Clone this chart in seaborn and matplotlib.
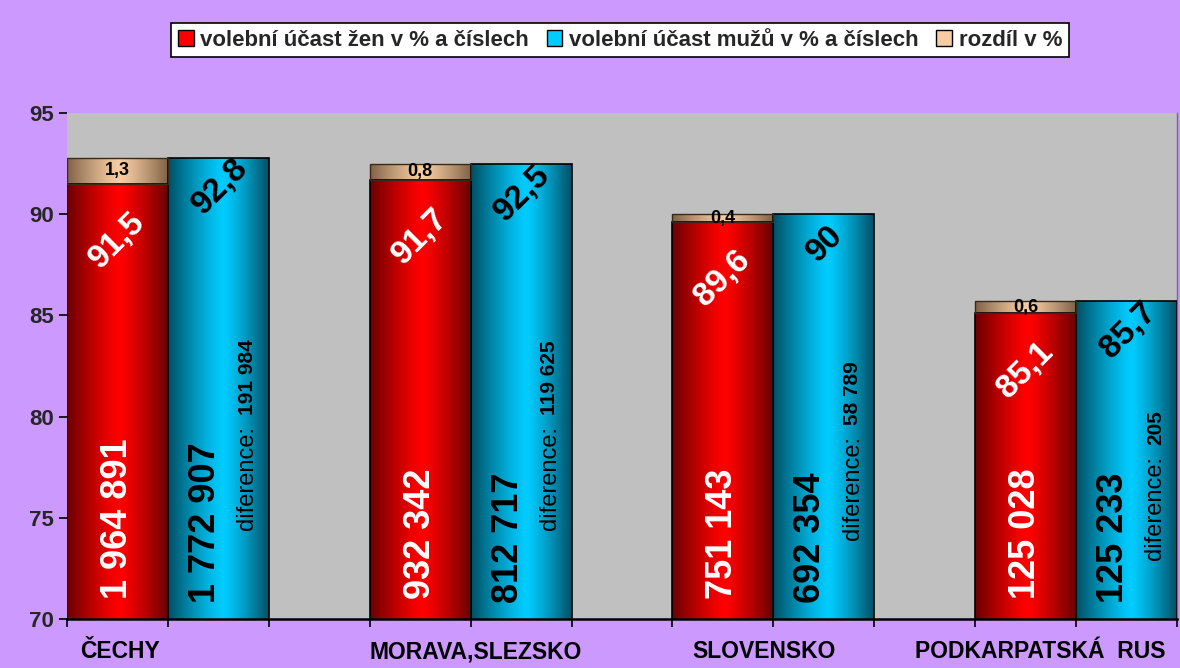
import matplotlib
matplotlib.use("Agg")
import matplotlib.pyplot as plt
import matplotlib.patches as mpatches
import numpy as np
import pandas as pd
import seaborn as sns

# data
regions = ["ČECHY", "MORAVA,SLEZSKO", "SLOVENSKO", "PODKARPATSKÁ  RUS"]
women_pct = [91.5, 91.7, 89.6, 85.1]
men_pct = [92.8, 92.5, 90.0, 85.7]
diff_pct = [1.3, 0.8, 0.4, 0.6]
women_count = [1964891, 932342, 751143, 125028]
men_count = [1772907, 812717, 692354, 125233]
y_ticks = [70, 75, 80, 85, 90, 95]
legend_labels = ["volební účast žen v % a číslech",
                 "volební účast mužů v % a číslech",
                 "rozdíl v %"]

# layout bits (not data)
label_left_x = [-0.29, 0.667, 1.733, 2.469]
diff_label_y = [74.4, 74.4, 73.9, 72.9]

PURPLE = "#CC99FF"
GRAY = "#C0C0C0"
RED = ("#6A0000", "#FF0000")
CYAN = ("#004F64", "#00CCFF")
TAN = ("#806247", "#F7CCA2")


def fmt_pct(v):
    return f"{v:g}".replace(".", ",")


def fmt_count(n):
    return f"{n:,}".replace(",", " ")


def gradient_fill(ax, patch, colors, peak=0.52, power=1.25):
    """Paint a cylinder-like horizontal gradient clipped to a bar patch."""
    dark = np.array(matplotlib.colors.to_rgb(colors[0]))
    bright = np.array(matplotlib.colors.to_rgb(colors[1]))
    t = np.linspace(0, 1, 200)
    d = np.where(t < peak, (peak - t) / peak, (t - peak) / (1 - peak))
    f = 1 - d ** power
    img = dark[None, :] + (bright - dark)[None, :] * f[:, None]
    img = img[None, :, :]
    ymin, ymax = ax.get_ylim()
    x0 = patch.get_x()
    x1 = x0 + patch.get_width()
    y0 = max(patch.get_y(), ymin)
    y1 = min(patch.get_y() + patch.get_height(), ymax)
    im = ax.imshow(img, extent=(x0, x1, y0, y1), aspect="auto",
                   origin="lower", zorder=patch.get_zorder() + 0.1)
    im.set_clip_path(patch)


sns.set_theme(style="white")
plt.rcParams["font.family"] = ["Liberation Sans", "DejaVu Sans"]

fig = plt.figure(figsize=(11.8, 6.68), dpi=100, facecolor=PURPLE)
ax = fig.add_axes([67 / 1180, 1 - 619 / 668, 1110 / 1180, 506 / 668])
ax.set_facecolor(GRAY)

df = pd.DataFrame({
    "region": regions * 2,
    "pct": women_pct + men_pct,
    "group": ["women"] * 4 + ["men"] * 4,
})

sns.barplot(data=df, x="region", y="pct", hue="group", order=regions,
            hue_order=["women", "men"], palette=[RED[1], CYAN[1]],
            width=2 / 3, saturation=1, edgecolor="black", linewidth=1.2,
            legend=False, ax=ax)

ax.set_xlim(-1 / 3, 3 + 1 / 3)
ax.set_ylim(70, 95)

red_bars = list(ax.containers[0])
cyan_bars = list(ax.containers[1])

xs_red = [p.get_x() + p.get_width() / 2 for p in red_bars]
xs_cyan = [p.get_x() + p.get_width() / 2 for p in cyan_bars]
bw = red_bars[0].get_width()

# difference segment stacked on the women's bar
tan = ax.bar(xs_red, diff_pct, bottom=women_pct, width=bw, color=TAN[1],
             edgecolor="#3a2a1a", linewidth=1.0, zorder=3)

for p in red_bars:
    gradient_fill(ax, p, RED)
for p in cyan_bars:
    gradient_fill(ax, p, CYAN, peak=0.55)
for p in tan:
    gradient_fill(ax, p, TAN)

# outlines on top of gradients
for p in red_bars + cyan_bars + list(tan):
    p.set_zorder(4)
    p.set_facecolor("none")

for i in range(4):
    # women %
    ax.text(xs_red[i], women_pct[i] - 2.8, fmt_pct(women_pct[i]), color="white",
            fontsize=24, fontweight="bold", rotation=45, ha="center",
            va="center", zorder=6)
    # men %
    ax.text(xs_cyan[i] + 0.005, men_pct[i] - 1.45, fmt_pct(men_pct[i]),
            color="black", fontsize=24, fontweight="bold", rotation=45,
            ha="center", va="center", zorder=6)
    # difference %
    ax.text(xs_red[i], women_pct[i] + diff_pct[i] / 2, fmt_pct(diff_pct[i]),
            color="black", fontsize=13, fontweight="bold", ha="center",
            va="center", zorder=6)
    # counts
    ax.text(xs_red[i], 71.0, fmt_count(women_count[i]), color="white",
            fontsize=26, fontweight="bold", rotation=90, ha="center",
            va="bottom", zorder=6)
    ax.text(xs_cyan[i] - 0.043, 70.8, fmt_count(men_count[i]), color="black",
            fontsize=26, fontweight="bold", rotation=90, ha="center",
            va="bottom", zorder=6)
    # count difference
    t1 = ax.text(xs_cyan[i] + 0.095, diff_label_y[i], "diference:",
                 color="black", fontsize=17, rotation=90, ha="center",
                 va="bottom", zorder=6)
    ax.annotate(fmt_count(abs(women_count[i] - men_count[i])),
                xy=(0.5, 1.0), xycoords=t1, xytext=(0, 8),
                textcoords="offset points", color="black", fontsize=15,
                fontweight="bold", rotation=90, ha="center", va="bottom",
                zorder=6)

ax.set_yticks(y_ticks)
ax.set_yticklabels([str(v) for v in y_ticks], fontsize=16, fontweight="bold")
ax.set_xticks(np.arange(-1 / 3, 3 + 0.34, 1 / 3))
ax.set_xticklabels([])
ax.tick_params(axis="both", direction="out", length=6, width=1.2,
               color="black", bottom=True, left=True)
ax.set_xlabel("")
ax.set_ylabel("")

for s in ["top", "left"]:
    ax.spines[s].set_visible(False)
ax.spines["right"].set_color("#707070")
ax.spines["right"].set_linewidth(1)
ax.spines["bottom"].set_color("black")
ax.spines["bottom"].set_linewidth(1.8)
ax.spines["bottom"].set_zorder(7)

for lab, lx in zip(regions, label_left_x):
    ax.text(lx, -0.065, lab, transform=ax.get_xaxis_transform(), ha="left",
            va="center", fontsize=16.5, fontweight="bold", color="black",
            clip_on=False)

handles = [mpatches.Patch(facecolor=RED[1], edgecolor="black", linewidth=1),
           mpatches.Patch(facecolor=CYAN[1], edgecolor="black", linewidth=1),
           mpatches.Patch(facecolor=TAN[1], edgecolor="black", linewidth=1)]
leg = fig.legend(handles, legend_labels, loc="center",
                 bbox_to_anchor=(620 / 1180, 1 - 40 / 668), ncol=3,
                 prop={"weight": "bold", "size": 16}, frameon=True,
                 fancybox=False, edgecolor="black", facecolor="white",
                 framealpha=1, handlelength=0.7, handleheight=0.7,
                 handletextpad=0.3, columnspacing=0.8, borderpad=0.3)
leg.get_frame().set_linewidth(1.2)

fig.savefig("out.png", dpi=100, facecolor=PURPLE)
plt.close(fig)
